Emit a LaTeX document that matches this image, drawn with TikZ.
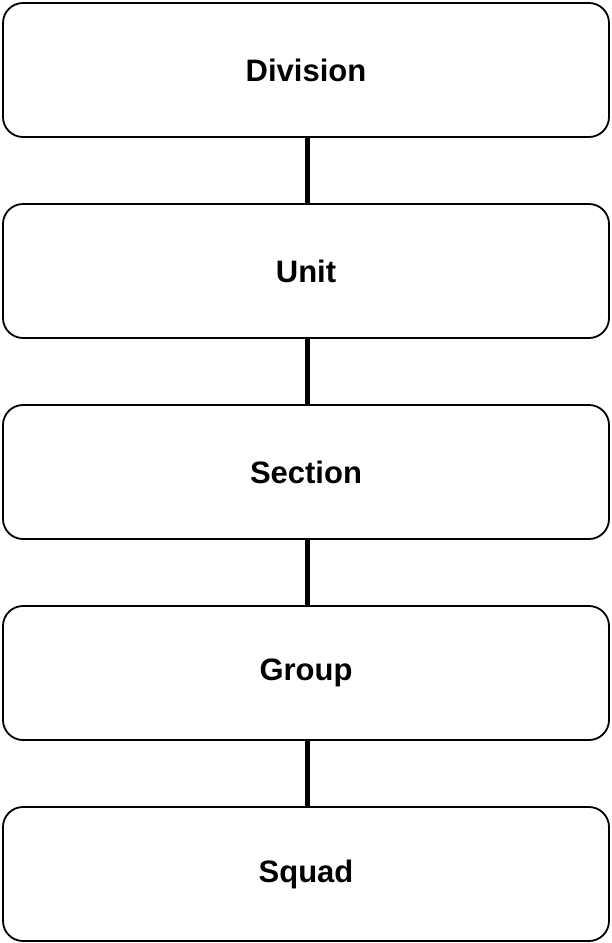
\documentclass[tikz,border=0pt]{standalone}
\usepackage{fontspec}
\setmainfont{Liberation Sans}
\begin{document}
\begin{tikzpicture}[x=1pt,y=-1pt,
  levelbox/.style={draw=black, line width=1.8pt, rounded corners=20pt, fill=white,
    minimum width=606pt, minimum height=134pt, inner sep=0pt,
    font=\fontsize{31}{37}\selectfont\bfseries, text=black},
  link/.style={line width=5pt, black}]
\useasboundingbox (0,0) rectangle (611,943);
\node[levelbox] (division) at (306,70) {Division};
\node[levelbox] (unit) at (306,271) {Unit};
\node[levelbox] (section) at (306,472) {Section};
\node[levelbox] (group) at (306,673) {Group};
\node[levelbox] (squad) at (306,874) {Squad};
\draw[link] ([xshift=1pt]division.south) -- ([xshift=1pt]unit.north);
\draw[link] ([xshift=1pt]unit.south) -- ([xshift=1pt]section.north);
\draw[link] ([xshift=1pt]section.south) -- ([xshift=1pt]group.north);
\draw[link] ([xshift=1pt]group.south) -- ([xshift=1pt]squad.north);
\end{tikzpicture}
\end{document}
